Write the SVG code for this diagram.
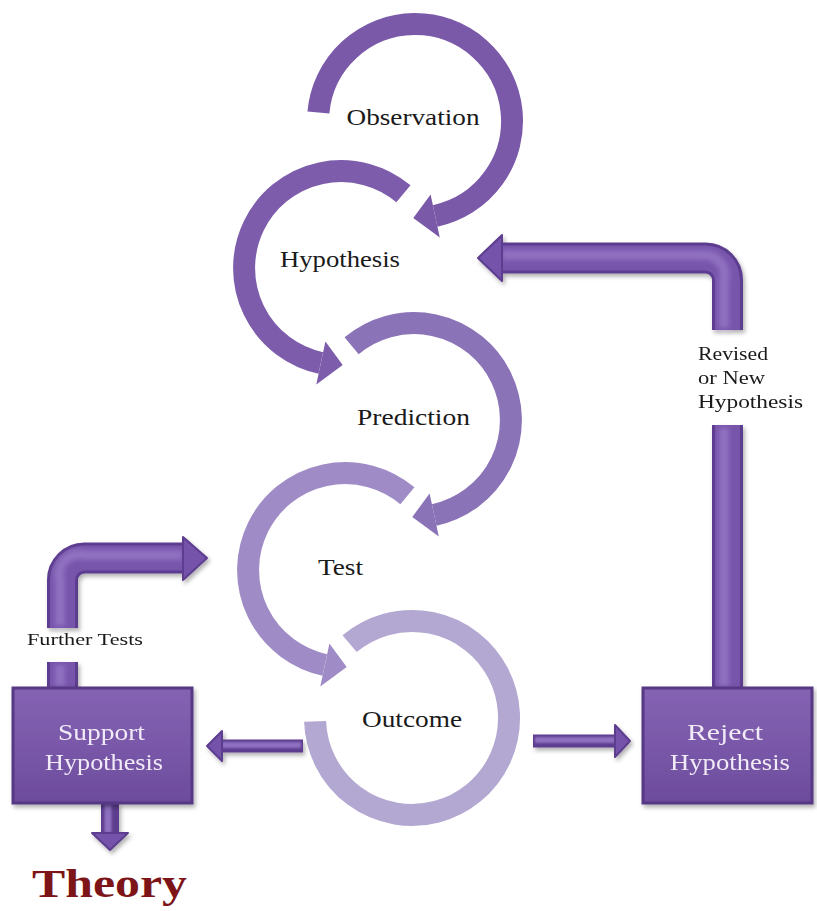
<svg xmlns="http://www.w3.org/2000/svg" width="817" height="911" viewBox="0 0 817 911">
<defs>
<style>
.lbl{font-family:"Liberation Serif","DejaVu Serif",serif;font-size:24px;fill:#1a1a1a;text-anchor:middle}
.sm{font-family:"Liberation Serif","DejaVu Serif",serif;font-size:18px;fill:#1a1a1a}
.box-t{font-family:"Liberation Serif","DejaVu Serif",serif;font-size:24px;fill:#f1ebf7;text-anchor:middle}
.arc{fill:none;stroke-width:22;stroke-linecap:butt}
.to{fill:none;stroke:#5d3c8f;stroke-width:31;stroke-linejoin:round}
.tm{fill:none;stroke:#7755ab;stroke-width:25;stroke-linejoin:round}
.th{fill:none;stroke:#a083cf;stroke-width:10;opacity:.6;stroke-linejoin:round;filter:url(#bl)}
.thin-o{fill:none;stroke:#5d3c8f;stroke-width:13}
.thin-m{fill:none;stroke:#8e70c0;stroke-width:6;filter:url(#bl1)}
.head{fill:#7553aa;stroke:#5d3c8f;stroke-width:2;stroke-linejoin:round}
.box{stroke:#573985;stroke-width:3}
</style>
<filter id="sh" x="-20%" y="-20%" width="140%" height="140%">
<feDropShadow dx="2" dy="3" stdDeviation="2" flood-color="#000" flood-opacity="0.3"/>
</filter>
<filter id="bl" filterUnits="userSpaceOnUse" x="0" y="0" width="817" height="911">
<feGaussianBlur stdDeviation="2.5"/>
</filter>
<filter id="bl1" filterUnits="userSpaceOnUse" x="0" y="0" width="817" height="911">
<feGaussianBlur stdDeviation="1"/>
</filter>
<linearGradient id="bx" x1="0" y1="0" x2="0" y2="1">
<stop offset="0" stop-color="#8563b3"/>
<stop offset="0.5" stop-color="#7a58a9"/>
<stop offset="1" stop-color="#6c4b9c"/>
</linearGradient>
</defs>
<rect width="817" height="911" fill="#ffffff"/>

<g id="observation">
<path class="arc" stroke="#7a59a9" d="M318.4,112.5 A97,97 0 1 1 435.2,215.9"/>
<polygon fill="#7a59a9" points="430.6,194.4 439.8,237.4 413.3,218"/>
<text class="lbl" x="413" y="125" textLength="133" lengthAdjust="spacingAndGlyphs">Observation</text>
</g>

<g id="hypothesis">
<path class="arc" stroke="#7c5cab" d="M403.4,193.7 A97,97 0 1 0 320.8,362.9"/>
<polygon fill="#7c5cab" points="325.4,341.4 316.3,384.4 342.7,365"/>
<text class="lbl" x="340" y="267" textLength="120" lengthAdjust="spacingAndGlyphs">Hypothesis</text>
</g>

<g id="prediction">
<path class="arc" stroke="#8b73b8" d="M351.6,345.7 A97,97 0 1 1 434.2,514.9"/>
<polygon fill="#8b73b8" points="429.6,493.4 438.8,536.4 412.3,517"/>
<text class="lbl" x="413.5" y="425" textLength="113" lengthAdjust="spacingAndGlyphs">Prediction</text>
</g>

<g id="test">
<path class="arc" stroke="#9f8cc6" d="M407.4,495.7 A97,97 0 1 0 324.8,664.9"/>
<polygon fill="#9f8cc6" points="329.4,643.4 320.3,686.4 346.7,667"/>
<text class="lbl" x="340.5" y="575" textLength="45" lengthAdjust="spacingAndGlyphs">Test</text>
</g>

<g id="outcome">
<path class="arc" stroke="#b3a8d1" d="M349.6,643.7 A97,97 0 1 1 315.1,721.4"/>
<text class="lbl" x="412" y="727" textLength="100" lengthAdjust="spacingAndGlyphs">Outcome</text>
</g>

<g id="connectors" filter="url(#sh)">
<!-- revised hypothesis elbow -->
<path class="to" d="M727.5,330 V280 A22,22 0 0 0 705.5,258 H500"/>
<path class="tm" d="M727.5,330 V280 A22,22 0 0 0 705.5,258 H500"/>
<path class="th" d="M724,328 V280 A20,20 0 0 0 704,255 H502"/>
<polygon class="head" points="502,235 478,258 502,281"/>
<path class="to" d="M727.5,425 V688"/>
<path class="tm" d="M727.5,425 V688"/>
<path class="th" d="M724,428 V686"/>
<!-- further tests elbow -->
<path class="to" d="M62.5,628 V580 A22,22 0 0 1 84.5,558 H185"/>
<path class="tm" d="M62.5,628 V580 A22,22 0 0 1 84.5,558 H185"/>
<path class="th" d="M60,626 V580 A20,20 0 0 1 84.5,555 H183"/>
<polygon class="head" points="183,537 207,558 183,580"/>
<path class="to" d="M62.5,662 V688"/>
<path class="tm" d="M62.5,662 V688"/>
<path class="th" d="M60,665 V686"/>
<!-- outcome to reject -->
<path class="thin-o" d="M533,741 H617"/>
<path class="thin-m" d="M535,740 H615"/>
<polygon class="head" points="615,725 630,741 615,757"/>
<!-- outcome to support -->
<path class="thin-o" d="M303,746 H220"/>
<path class="thin-m" d="M301,745 H222"/>
<polygon class="head" points="222,731 207,746 222,761"/>
<!-- support to theory -->
<path class="thin-o" d="M110,803 V835" style="stroke-width:18"/>
<path class="thin-m" d="M108,805 V833" style="stroke-width:7"/>
<polygon class="head" points="92,833 110,850 128,833"/>
</g>

<g id="revised-label">
<text class="sm" x="698" y="360" textLength="70" lengthAdjust="spacingAndGlyphs">Revised</text>
<text class="sm" x="698" y="384" textLength="67" lengthAdjust="spacingAndGlyphs">or New</text>
<text class="sm" x="698" y="408" textLength="105" lengthAdjust="spacingAndGlyphs">Hypothesis</text>
</g>

<g id="further-label">
<text class="sm" x="27" y="645" style="font-size:17px" textLength="116" lengthAdjust="spacingAndGlyphs">Further Tests</text>
</g>

<g id="support" filter="url(#sh)">
<rect class="box" x="13" y="688" width="179" height="115" style="fill:url(#bx)"/>
<text class="box-t" x="101.5" y="740" textLength="87" lengthAdjust="spacingAndGlyphs">Support</text>
<text class="box-t" x="104" y="770" textLength="118" lengthAdjust="spacingAndGlyphs">Hypothesis</text>
</g>

<g id="reject" filter="url(#sh)">
<rect class="box" x="643" y="688" width="169" height="115" style="fill:url(#bx)"/>
<text class="box-t" x="725" y="740" textLength="76" lengthAdjust="spacingAndGlyphs">Reject</text>
<text class="box-t" x="730" y="770" textLength="120" lengthAdjust="spacingAndGlyphs">Hypothesis</text>
</g>

<g id="theory">
<text x="109.5" y="897" style="font-family:'Liberation Serif','DejaVu Serif',serif;font-size:40px;font-weight:bold;fill:#7d1518;text-anchor:middle" textLength="155" lengthAdjust="spacingAndGlyphs">Theory</text>
</g>
</svg>
